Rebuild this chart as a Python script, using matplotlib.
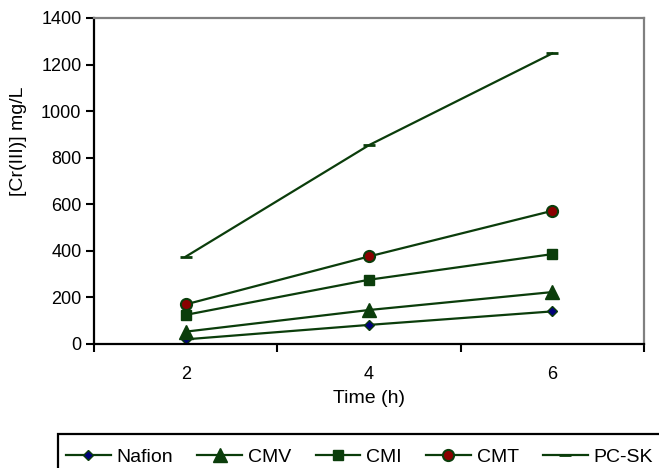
import numpy as np
import matplotlib
matplotlib.use('Agg')
import matplotlib.pyplot as plt
from matplotlib.patches import Rectangle

plt.rcParams['font.family'] = ['Liberation Sans', 'DejaVu Sans']

time_labels = ['2', '4', '6']
nafion = [20, 82, 140]
cmv = [53, 146, 223]
cmi = [125, 276, 386]
cmt = [170, 376, 572]
pcsk = [375, 854, 1248]

green = '#0b3d0b'
x = np.arange(len(time_labels))

fig = plt.figure(figsize=(6.59, 4.68), dpi=100)
ax = fig.add_axes([94/659, 1 - 344/468, 550/659, 326/468])

ax.plot(x, nafion, color=green, lw=1.6, marker='D', ms=5.5, mfc='#00007a', mec=green, label='Nafion')
ax.plot(x, cmv, color=green, lw=1.6, marker='^', ms=10, mfc=green, mec=green, label='CMV')
ax.plot(x, cmi, color=green, lw=1.6, marker='s', ms=7.5, mfc=green, mec=green, label='CMI')
ax.plot(x, cmt, color=green, lw=1.6, marker='o', ms=8, mfc='#8b0000', mec=green, mew=1.5, label='CMT')
ax.plot(x, pcsk, color=green, lw=1.6, marker='_', ms=8, mew=2, mec=green, label='PC-SK')

ax.set_xlim(-0.5, 2.5)
ax.set_ylim(0, 1400)
ax.set_yticks(np.arange(0, 1401, 200))
ax.set_xticks(x)
ax.set_xticklabels(time_labels)
ax.set_xticks([-0.5, 0.5, 1.5, 2.5], minor=True)
ax.tick_params(axis='x', which='major', length=0, pad=16, labelsize=13)
ax.tick_params(axis='x', which='minor', length=6, width=1.5, direction='out')
ax.tick_params(axis='y', length=6, width=1.5, direction='out', pad=3, labelsize=13)

for s in ['left', 'bottom']:
    ax.spines[s].set_color('black')
    ax.spines[s].set_linewidth(1.6)
for s in ['top', 'right']:
    ax.spines[s].set_color('#808080')
    ax.spines[s].set_linewidth(1.6)

ax.set_xlabel('Time (h)', fontsize=14)
ax.xaxis.set_label_coords(0.5, -0.14)
fig.text(19/659, 1 - 141/468, '[Cr(III)] mg/L', rotation=90, ha='center', va='center', fontsize=14)

fig.patches.append(Rectangle((58/659, -0.05), 1.0, 0.05 + 34/468, transform=fig.transFigure,
                             fill=False, edgecolor='black', lw=1.6))
fig.legend(loc='center left', bbox_to_anchor=(66/659, 1 - 457/468), ncol=5, frameon=False,
           fontsize=14, handlelength=2.3, handletextpad=0.3, columnspacing=1.25, borderpad=0,
           borderaxespad=0)

fig.savefig('out.png', dpi=100)
